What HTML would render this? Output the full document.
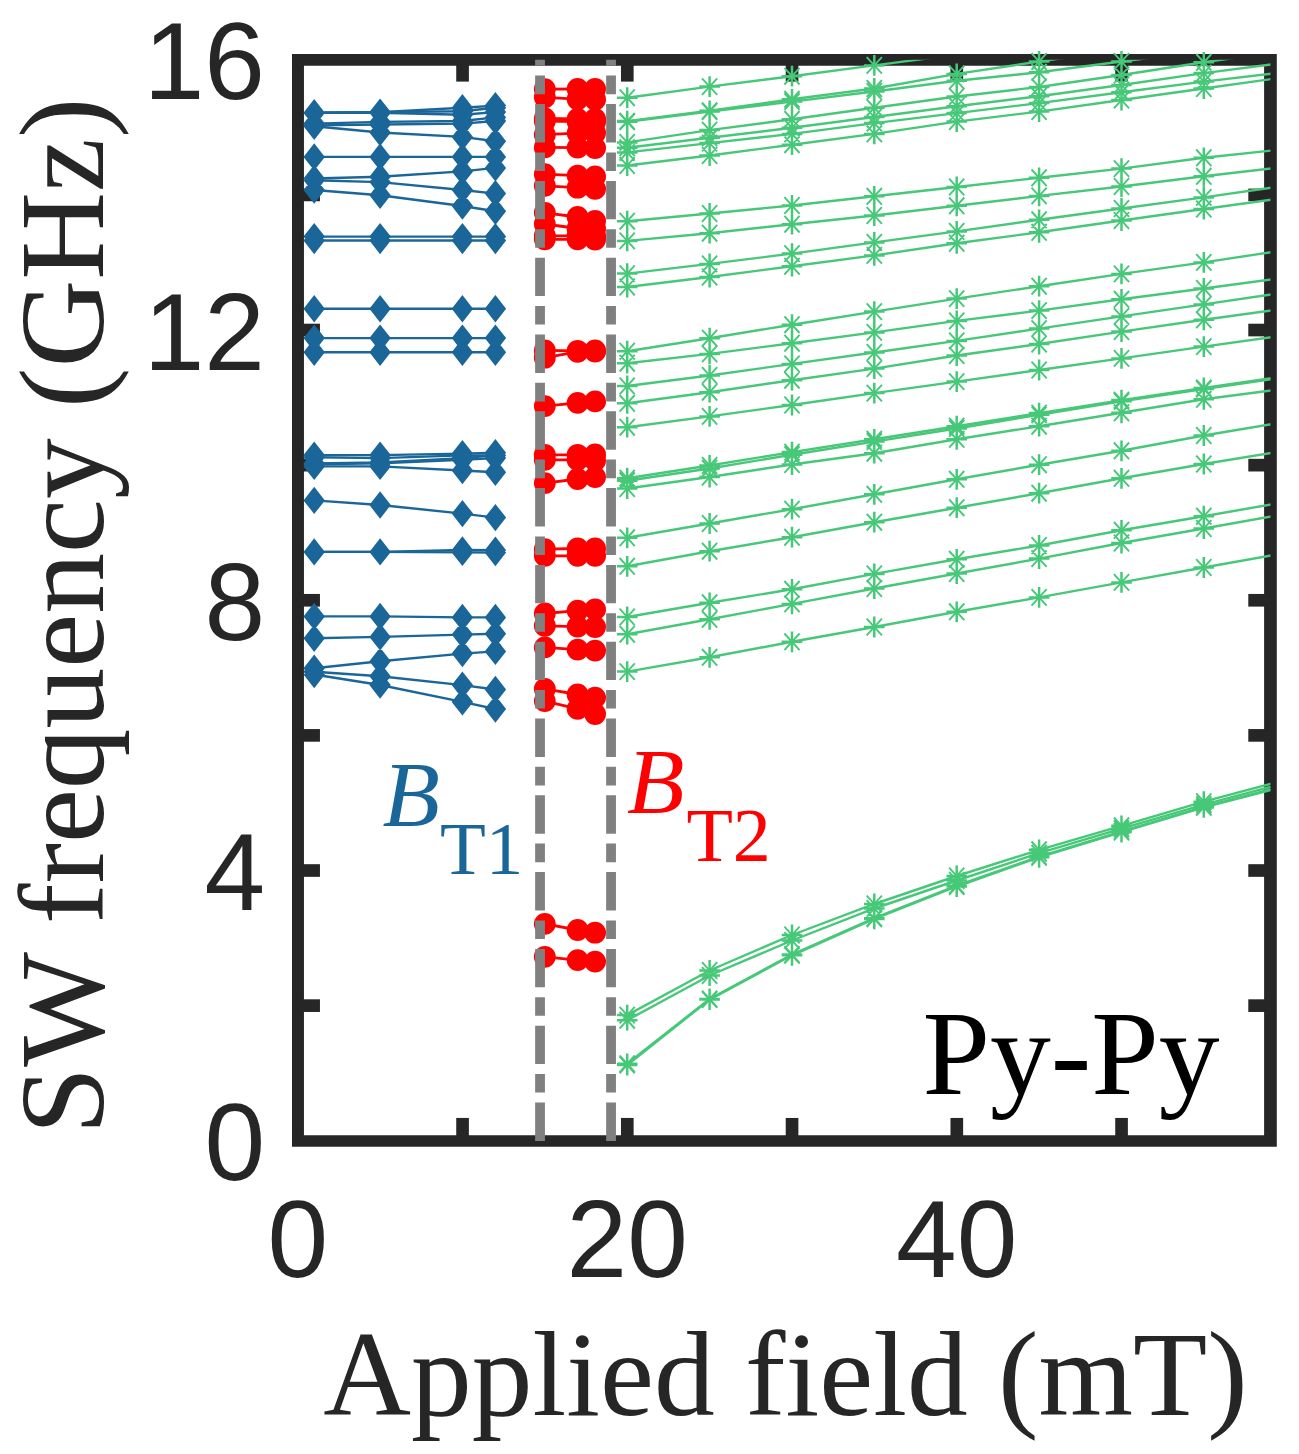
<!DOCTYPE html>
<html lang="en"><head><meta charset="utf-8"><title>SW frequency vs applied field (Py-Py)</title>
<style>html,body{margin:0;padding:0;background:#fff}svg{display:block}.sans{font-family:"Liberation Sans",Arial,Helvetica,sans-serif}.serif{font-family:"Liberation Serif","Times New Roman",Times,serif}</style></head><body>
<svg width="1299" height="1454" viewBox="0 0 1299 1454">
<rect x="0" y="0" width="1299" height="1454" fill="#fff"/>
<defs>
<clipPath id="cp"><rect x="297.95" y="59.87" width="972.5" height="1081.0300000000002"/></clipPath>
</defs>
<path fill="#262626" fill-rule="evenodd" d="M292.0,54.0H1276.8V1146.75H292.0Z M303.95,65.73H1264.1V1135.15H303.95Z"/>
<g fill="#262626"><rect x="456.23" y="1117.95" width="12.65" height="18.20"/><rect x="456.23" y="64.73" width="12.65" height="16.87"/><rect x="620.97" y="1117.95" width="12.65" height="18.20"/><rect x="620.97" y="64.73" width="12.65" height="16.87"/><rect x="785.73" y="1117.95" width="12.65" height="18.20"/><rect x="785.73" y="64.73" width="12.65" height="16.87"/><rect x="950.47" y="1117.95" width="12.65" height="18.20"/><rect x="950.47" y="64.73" width="12.65" height="16.87"/><rect x="1115.23" y="1117.95" width="12.65" height="18.20"/><rect x="1115.23" y="64.73" width="12.65" height="16.87"/><rect x="302.95" y="999.31" width="17.00" height="12.65"/><rect x="1248.3" y="999.31" width="16.80" height="12.65"/><rect x="302.95" y="864.19" width="17.00" height="12.65"/><rect x="1248.3" y="864.19" width="16.80" height="12.65"/><rect x="302.95" y="729.07" width="17.00" height="12.65"/><rect x="1248.3" y="729.07" width="16.80" height="12.65"/><rect x="302.95" y="593.95" width="17.00" height="12.65"/><rect x="1248.3" y="593.95" width="16.80" height="12.65"/><rect x="302.95" y="458.83" width="17.00" height="12.65"/><rect x="1248.3" y="458.83" width="16.80" height="12.65"/><rect x="302.95" y="323.71" width="17.00" height="12.65"/><rect x="1248.3" y="323.71" width="16.80" height="12.65"/><rect x="302.95" y="188.59" width="17.00" height="12.65"/><rect x="1248.3" y="188.59" width="16.80" height="12.65"/></g>
<g clip-path="url(#cp)" stroke="#1b6699" stroke-width="2.4" fill="none">
<polyline points="314.2,112.7 380.1,112.1 462.4,107.7 495.4,105.6"/>
<polyline points="314.2,112.7 380.1,112.1 462.4,111.2 495.4,107.7"/>
<polyline points="314.2,112.9 380.1,112.7 462.4,114.8 495.4,112.1"/>
<polyline points="314.2,123.6 380.1,121.9 462.4,121.0 495.4,117.4"/>
<polyline points="314.2,125.4 380.1,124.5 462.4,123.6 495.4,121.0"/>
<polyline points="314.2,126.3 380.1,132.5 462.4,136.9 495.4,141.3"/>
<polyline points="314.2,156.9 380.1,156.9 462.4,156.9 495.4,156.9"/>
<polyline points="314.2,178.5 380.1,176.8 462.4,171.4 495.4,167.9"/>
<polyline points="314.2,180.3 380.1,182.1 462.4,190.0 495.4,193.6"/>
<polyline points="314.2,190.0 380.1,195.3 462.4,206.0 495.4,211.3"/>
<polyline points="314.2,236.6 380.1,236.6 462.4,236.6 495.4,236.6"/>
<polyline points="314.2,240.5 380.1,240.5 462.4,240.5 495.4,240.5"/>
<polyline points="314.2,308.7 380.1,308.7 462.4,308.7 495.4,308.7"/>
<polyline points="314.2,338.1 380.1,338.1 462.4,338.1 495.4,338.1"/>
<polyline points="314.2,352.2 380.1,352.2 462.4,352.2 495.4,352.2"/>
<polyline points="314.2,455.1 380.1,455.1 462.4,453.6 495.4,452.8"/>
<polyline points="314.2,457.2 380.1,458.1 462.4,455.4 495.4,455.4"/>
<polyline points="314.2,463.4 380.1,462.5 462.4,458.1 495.4,455.4"/>
<polyline points="314.2,464.3 380.1,463.4 462.4,459.8 495.4,458.1"/>
<polyline points="314.2,466.4 380.1,466.4 462.4,470.5 495.4,472.2"/>
<polyline points="314.2,500.4 380.1,505.0 462.4,513.6 495.4,517.6"/>
<polyline points="314.2,551.9 380.1,551.9 462.4,550.0 495.4,550.2"/>
<polyline points="314.2,551.9 380.1,551.9 462.4,552.4 495.4,552.6"/>
<polyline points="314.2,616.4 380.1,616.4 462.4,617.4 495.4,617.4"/>
<polyline points="314.2,638.2 380.1,636.9 462.4,634.6 495.4,633.7"/>
<polyline points="314.2,668.3 380.1,661.2 462.4,653.6 495.4,651.4"/>
<polyline points="314.2,671.8 380.1,676.2 462.4,685.1 495.4,689.5"/>
<polyline points="314.2,674.5 380.1,685.0 462.4,701.9 495.4,709.0"/>
</g>
<path fill="#1b6699" d="M314.2,99.0l10.7,13.7l-10.7,13.7l-10.7,-13.7zM380.1,98.4l10.7,13.7l-10.7,13.7l-10.7,-13.7zM462.4,94.0l10.7,13.7l-10.7,13.7l-10.7,-13.7zM495.4,91.9l10.7,13.7l-10.7,13.7l-10.7,-13.7zM314.2,99.0l10.7,13.7l-10.7,13.7l-10.7,-13.7zM380.1,98.4l10.7,13.7l-10.7,13.7l-10.7,-13.7zM462.4,97.5l10.7,13.7l-10.7,13.7l-10.7,-13.7zM495.4,94.0l10.7,13.7l-10.7,13.7l-10.7,-13.7zM314.2,99.2l10.7,13.7l-10.7,13.7l-10.7,-13.7zM380.1,99.0l10.7,13.7l-10.7,13.7l-10.7,-13.7zM462.4,101.1l10.7,13.7l-10.7,13.7l-10.7,-13.7zM495.4,98.4l10.7,13.7l-10.7,13.7l-10.7,-13.7zM314.2,109.9l10.7,13.7l-10.7,13.7l-10.7,-13.7zM380.1,108.2l10.7,13.7l-10.7,13.7l-10.7,-13.7zM462.4,107.3l10.7,13.7l-10.7,13.7l-10.7,-13.7zM495.4,103.7l10.7,13.7l-10.7,13.7l-10.7,-13.7zM314.2,111.7l10.7,13.7l-10.7,13.7l-10.7,-13.7zM380.1,110.8l10.7,13.7l-10.7,13.7l-10.7,-13.7zM462.4,109.9l10.7,13.7l-10.7,13.7l-10.7,-13.7zM495.4,107.3l10.7,13.7l-10.7,13.7l-10.7,-13.7zM314.2,112.6l10.7,13.7l-10.7,13.7l-10.7,-13.7zM380.1,118.8l10.7,13.7l-10.7,13.7l-10.7,-13.7zM462.4,123.2l10.7,13.7l-10.7,13.7l-10.7,-13.7zM495.4,127.6l10.7,13.7l-10.7,13.7l-10.7,-13.7zM314.2,143.2l10.7,13.7l-10.7,13.7l-10.7,-13.7zM380.1,143.2l10.7,13.7l-10.7,13.7l-10.7,-13.7zM462.4,143.2l10.7,13.7l-10.7,13.7l-10.7,-13.7zM495.4,143.2l10.7,13.7l-10.7,13.7l-10.7,-13.7zM314.2,164.8l10.7,13.7l-10.7,13.7l-10.7,-13.7zM380.1,163.1l10.7,13.7l-10.7,13.7l-10.7,-13.7zM462.4,157.7l10.7,13.7l-10.7,13.7l-10.7,-13.7zM495.4,154.2l10.7,13.7l-10.7,13.7l-10.7,-13.7zM314.2,166.6l10.7,13.7l-10.7,13.7l-10.7,-13.7zM380.1,168.4l10.7,13.7l-10.7,13.7l-10.7,-13.7zM462.4,176.3l10.7,13.7l-10.7,13.7l-10.7,-13.7zM495.4,179.9l10.7,13.7l-10.7,13.7l-10.7,-13.7zM314.2,176.3l10.7,13.7l-10.7,13.7l-10.7,-13.7zM380.1,181.6l10.7,13.7l-10.7,13.7l-10.7,-13.7zM462.4,192.3l10.7,13.7l-10.7,13.7l-10.7,-13.7zM495.4,197.6l10.7,13.7l-10.7,13.7l-10.7,-13.7zM314.2,222.9l10.7,13.7l-10.7,13.7l-10.7,-13.7zM380.1,222.9l10.7,13.7l-10.7,13.7l-10.7,-13.7zM462.4,222.9l10.7,13.7l-10.7,13.7l-10.7,-13.7zM495.4,222.9l10.7,13.7l-10.7,13.7l-10.7,-13.7zM314.2,226.8l10.7,13.7l-10.7,13.7l-10.7,-13.7zM380.1,226.8l10.7,13.7l-10.7,13.7l-10.7,-13.7zM462.4,226.8l10.7,13.7l-10.7,13.7l-10.7,-13.7zM495.4,226.8l10.7,13.7l-10.7,13.7l-10.7,-13.7zM314.2,295.0l10.7,13.7l-10.7,13.7l-10.7,-13.7zM380.1,295.0l10.7,13.7l-10.7,13.7l-10.7,-13.7zM462.4,295.0l10.7,13.7l-10.7,13.7l-10.7,-13.7zM495.4,295.0l10.7,13.7l-10.7,13.7l-10.7,-13.7zM314.2,324.4l10.7,13.7l-10.7,13.7l-10.7,-13.7zM380.1,324.4l10.7,13.7l-10.7,13.7l-10.7,-13.7zM462.4,324.4l10.7,13.7l-10.7,13.7l-10.7,-13.7zM495.4,324.4l10.7,13.7l-10.7,13.7l-10.7,-13.7zM314.2,338.5l10.7,13.7l-10.7,13.7l-10.7,-13.7zM380.1,338.5l10.7,13.7l-10.7,13.7l-10.7,-13.7zM462.4,338.5l10.7,13.7l-10.7,13.7l-10.7,-13.7zM495.4,338.5l10.7,13.7l-10.7,13.7l-10.7,-13.7zM314.2,441.4l10.7,13.7l-10.7,13.7l-10.7,-13.7zM380.1,441.4l10.7,13.7l-10.7,13.7l-10.7,-13.7zM462.4,439.9l10.7,13.7l-10.7,13.7l-10.7,-13.7zM495.4,439.1l10.7,13.7l-10.7,13.7l-10.7,-13.7zM314.2,443.5l10.7,13.7l-10.7,13.7l-10.7,-13.7zM380.1,444.4l10.7,13.7l-10.7,13.7l-10.7,-13.7zM462.4,441.7l10.7,13.7l-10.7,13.7l-10.7,-13.7zM495.4,441.7l10.7,13.7l-10.7,13.7l-10.7,-13.7zM314.2,449.7l10.7,13.7l-10.7,13.7l-10.7,-13.7zM380.1,448.8l10.7,13.7l-10.7,13.7l-10.7,-13.7zM462.4,444.4l10.7,13.7l-10.7,13.7l-10.7,-13.7zM495.4,441.7l10.7,13.7l-10.7,13.7l-10.7,-13.7zM314.2,450.6l10.7,13.7l-10.7,13.7l-10.7,-13.7zM380.1,449.7l10.7,13.7l-10.7,13.7l-10.7,-13.7zM462.4,446.1l10.7,13.7l-10.7,13.7l-10.7,-13.7zM495.4,444.4l10.7,13.7l-10.7,13.7l-10.7,-13.7zM314.2,452.7l10.7,13.7l-10.7,13.7l-10.7,-13.7zM380.1,452.7l10.7,13.7l-10.7,13.7l-10.7,-13.7zM462.4,456.8l10.7,13.7l-10.7,13.7l-10.7,-13.7zM495.4,458.5l10.7,13.7l-10.7,13.7l-10.7,-13.7zM314.2,486.7l10.7,13.7l-10.7,13.7l-10.7,-13.7zM380.1,491.3l10.7,13.7l-10.7,13.7l-10.7,-13.7zM462.4,499.9l10.7,13.7l-10.7,13.7l-10.7,-13.7zM495.4,503.9l10.7,13.7l-10.7,13.7l-10.7,-13.7zM314.2,538.2l10.7,13.7l-10.7,13.7l-10.7,-13.7zM380.1,538.2l10.7,13.7l-10.7,13.7l-10.7,-13.7zM462.4,536.3l10.7,13.7l-10.7,13.7l-10.7,-13.7zM495.4,536.5l10.7,13.7l-10.7,13.7l-10.7,-13.7zM314.2,538.2l10.7,13.7l-10.7,13.7l-10.7,-13.7zM380.1,538.2l10.7,13.7l-10.7,13.7l-10.7,-13.7zM462.4,538.7l10.7,13.7l-10.7,13.7l-10.7,-13.7zM495.4,538.9l10.7,13.7l-10.7,13.7l-10.7,-13.7zM314.2,602.7l10.7,13.7l-10.7,13.7l-10.7,-13.7zM380.1,602.7l10.7,13.7l-10.7,13.7l-10.7,-13.7zM462.4,603.7l10.7,13.7l-10.7,13.7l-10.7,-13.7zM495.4,603.7l10.7,13.7l-10.7,13.7l-10.7,-13.7zM314.2,624.5l10.7,13.7l-10.7,13.7l-10.7,-13.7zM380.1,623.2l10.7,13.7l-10.7,13.7l-10.7,-13.7zM462.4,620.9l10.7,13.7l-10.7,13.7l-10.7,-13.7zM495.4,620.0l10.7,13.7l-10.7,13.7l-10.7,-13.7zM314.2,654.6l10.7,13.7l-10.7,13.7l-10.7,-13.7zM380.1,647.5l10.7,13.7l-10.7,13.7l-10.7,-13.7zM462.4,639.9l10.7,13.7l-10.7,13.7l-10.7,-13.7zM495.4,637.7l10.7,13.7l-10.7,13.7l-10.7,-13.7zM314.2,658.1l10.7,13.7l-10.7,13.7l-10.7,-13.7zM380.1,662.5l10.7,13.7l-10.7,13.7l-10.7,-13.7zM462.4,671.4l10.7,13.7l-10.7,13.7l-10.7,-13.7zM495.4,675.8l10.7,13.7l-10.7,13.7l-10.7,-13.7zM314.2,660.8l10.7,13.7l-10.7,13.7l-10.7,-13.7zM380.1,671.3l10.7,13.7l-10.7,13.7l-10.7,-13.7zM462.4,688.2l10.7,13.7l-10.7,13.7l-10.7,-13.7zM495.4,695.3l10.7,13.7l-10.7,13.7l-10.7,-13.7z"/>
<g clip-path="url(#cp)" stroke="#ff0000" stroke-width="2.8" fill="none">
<polyline points="544.8,89.2 577.6,89.0 595.1,89.0"/>
<polyline points="544.8,97.3 577.6,99.2 595.1,99.5"/>
<polyline points="544.8,118.5 577.6,118.9 595.1,119.0"/>
<polyline points="544.8,121.2 577.6,121.5 595.1,122.0"/>
<polyline points="544.8,134.7 577.6,133.1 595.1,133.0"/>
<polyline points="544.8,147.4 577.6,147.6 595.1,148.0"/>
<polyline points="544.8,174.2 577.6,175.6 595.1,176.4"/>
<polyline points="544.8,185.8 577.6,187.7 595.1,188.9"/>
<polyline points="544.8,212.8 577.6,217.0 595.1,221.0"/>
<polyline points="544.8,224.0 577.6,228.5 595.1,229.0"/>
<polyline points="544.8,235.8 577.6,235.8 595.1,236.0"/>
<polyline points="544.8,239.3 577.6,239.3 595.1,239.5"/>
<polyline points="544.8,350.4 577.6,350.8 595.1,350.5"/>
<polyline points="544.8,357.7 577.6,351.9 595.1,351.6"/>
<polyline points="544.8,406.1 577.6,402.9 595.1,401.4"/>
<polyline points="544.8,454.8 577.6,454.8 595.1,454.5"/>
<polyline points="544.8,459.9 577.6,459.9 595.1,460.5"/>
<polyline points="544.8,483.1 577.6,479.0 595.1,477.1"/>
<polyline points="544.8,549.2 577.6,548.5 595.1,548.5"/>
<polyline points="544.8,555.8 577.6,555.8 595.1,555.8"/>
<polyline points="544.8,613.5 577.6,610.6 595.1,609.4"/>
<polyline points="544.8,625.8 577.6,626.6 595.1,627.0"/>
<polyline points="544.8,647.4 577.6,649.6 595.1,650.6"/>
<polyline points="544.8,688.9 577.6,694.5 595.1,697.6"/>
<polyline points="544.8,701.1 577.6,708.9 595.1,714.0"/>
<polyline points="544.8,923.9 577.6,930.0 595.1,932.7"/>
<polyline points="544.8,956.8 577.6,960.1 595.1,961.6"/>
</g>
<g fill="#ff0000">
<circle cx="544.8" cy="89.2" r="10.9"/><circle cx="577.6" cy="89.0" r="10.9"/><circle cx="595.1" cy="89.0" r="10.9"/>
<circle cx="544.8" cy="97.3" r="10.9"/><circle cx="577.6" cy="99.2" r="10.9"/><circle cx="595.1" cy="99.5" r="10.9"/>
<circle cx="544.8" cy="118.5" r="10.9"/><circle cx="577.6" cy="118.9" r="10.9"/><circle cx="595.1" cy="119.0" r="10.9"/>
<circle cx="544.8" cy="121.2" r="10.9"/><circle cx="577.6" cy="121.5" r="10.9"/><circle cx="595.1" cy="122.0" r="10.9"/>
<circle cx="544.8" cy="134.7" r="10.9"/><circle cx="577.6" cy="133.1" r="10.9"/><circle cx="595.1" cy="133.0" r="10.9"/>
<circle cx="544.8" cy="147.4" r="10.9"/><circle cx="577.6" cy="147.6" r="10.9"/><circle cx="595.1" cy="148.0" r="10.9"/>
<circle cx="544.8" cy="174.2" r="10.9"/><circle cx="577.6" cy="175.6" r="10.9"/><circle cx="595.1" cy="176.4" r="10.9"/>
<circle cx="544.8" cy="185.8" r="10.9"/><circle cx="577.6" cy="187.7" r="10.9"/><circle cx="595.1" cy="188.9" r="10.9"/>
<circle cx="544.8" cy="212.8" r="10.9"/><circle cx="577.6" cy="217.0" r="10.9"/><circle cx="595.1" cy="221.0" r="10.9"/>
<circle cx="544.8" cy="224.0" r="10.9"/><circle cx="577.6" cy="228.5" r="10.9"/><circle cx="595.1" cy="229.0" r="10.9"/>
<circle cx="544.8" cy="235.8" r="10.9"/><circle cx="577.6" cy="235.8" r="10.9"/><circle cx="595.1" cy="236.0" r="10.9"/>
<circle cx="544.8" cy="239.3" r="10.9"/><circle cx="577.6" cy="239.3" r="10.9"/><circle cx="595.1" cy="239.5" r="10.9"/>
<circle cx="544.8" cy="350.4" r="10.9"/><circle cx="577.6" cy="350.8" r="10.9"/><circle cx="595.1" cy="350.5" r="10.9"/>
<circle cx="544.8" cy="357.7" r="10.9"/><circle cx="577.6" cy="351.9" r="10.9"/><circle cx="595.1" cy="351.6" r="10.9"/>
<circle cx="544.8" cy="406.1" r="10.9"/><circle cx="577.6" cy="402.9" r="10.9"/><circle cx="595.1" cy="401.4" r="10.9"/>
<circle cx="544.8" cy="454.8" r="10.9"/><circle cx="577.6" cy="454.8" r="10.9"/><circle cx="595.1" cy="454.5" r="10.9"/>
<circle cx="544.8" cy="459.9" r="10.9"/><circle cx="577.6" cy="459.9" r="10.9"/><circle cx="595.1" cy="460.5" r="10.9"/>
<circle cx="544.8" cy="483.1" r="10.9"/><circle cx="577.6" cy="479.0" r="10.9"/><circle cx="595.1" cy="477.1" r="10.9"/>
<circle cx="544.8" cy="549.2" r="10.9"/><circle cx="577.6" cy="548.5" r="10.9"/><circle cx="595.1" cy="548.5" r="10.9"/>
<circle cx="544.8" cy="555.8" r="10.9"/><circle cx="577.6" cy="555.8" r="10.9"/><circle cx="595.1" cy="555.8" r="10.9"/>
<circle cx="544.8" cy="613.5" r="10.9"/><circle cx="577.6" cy="610.6" r="10.9"/><circle cx="595.1" cy="609.4" r="10.9"/>
<circle cx="544.8" cy="625.8" r="10.9"/><circle cx="577.6" cy="626.6" r="10.9"/><circle cx="595.1" cy="627.0" r="10.9"/>
<circle cx="544.8" cy="647.4" r="10.9"/><circle cx="577.6" cy="649.6" r="10.9"/><circle cx="595.1" cy="650.6" r="10.9"/>
<circle cx="544.8" cy="688.9" r="10.9"/><circle cx="577.6" cy="694.5" r="10.9"/><circle cx="595.1" cy="697.6" r="10.9"/>
<circle cx="544.8" cy="701.1" r="10.9"/><circle cx="577.6" cy="708.9" r="10.9"/><circle cx="595.1" cy="714.0" r="10.9"/>
<circle cx="544.8" cy="923.9" r="10.9"/><circle cx="577.6" cy="930.0" r="10.9"/><circle cx="595.1" cy="932.7" r="10.9"/>
<circle cx="544.8" cy="956.8" r="10.9"/><circle cx="577.6" cy="960.1" r="10.9"/><circle cx="595.1" cy="961.6" r="10.9"/>
</g>
<g clip-path="url(#cp)" stroke="#47c879" stroke-width="2.4" fill="none">
<polyline points="627.2,97.7 709.6,86.6 792.0,76.2 874.3,65.4 956.7,54.6 1039.1,44.0 1121.5,33.0 1203.8,22.0 1286.2,11.0"/>
<polyline points="627.2,121.1 709.6,110.8 792.0,99.3 874.3,88.5 956.7,73.9 1039.1,61.5 1121.5,49.5 1203.8,38.0 1286.2,26.0"/>
<polyline points="627.2,121.8 709.6,111.5 792.0,101.6 874.3,91.5 956.7,80.8 1039.1,72.3 1121.5,61.5 1203.8,51.0 1286.2,40.0"/>
<polyline points="627.2,142.4 709.6,130.1 792.0,119.3 874.3,107.7 956.7,96.5 1039.1,87.0 1121.5,75.0 1203.8,62.3 1286.2,50.5"/>
<polyline points="627.2,147.8 709.6,137.8 792.0,127.8 874.3,117.0 956.7,106.2 1039.1,96.2 1121.5,85.0 1203.8,73.1 1286.2,62.5"/>
<polyline points="627.2,152.4 709.6,143.1 792.0,133.9 874.3,123.1 956.7,113.1 1039.1,103.1 1121.5,92.3 1203.8,81.6 1286.2,72.0"/>
<polyline points="627.2,165.5 709.6,155.5 792.0,144.7 874.3,133.9 956.7,121.6 1039.1,111.6 1121.5,100.0 1203.8,88.5 1286.2,77.0"/>
<polyline points="627.2,221.2 709.6,213.5 792.0,205.5 874.3,196.3 956.7,187.0 1039.1,177.8 1121.5,168.6 1203.8,157.8 1286.2,149.0"/>
<polyline points="627.2,240.9 709.6,233.2 792.0,224.2 874.3,215.5 956.7,205.8 1039.1,195.9 1121.5,186.5 1203.8,176.3 1286.2,166.7"/>
<polyline points="627.2,273.6 709.6,263.9 792.0,253.6 874.3,242.4 956.7,231.4 1039.1,219.8 1121.5,208.5 1203.8,197.4 1286.2,185.6"/>
<polyline points="627.2,287.0 709.6,277.0 792.0,266.2 874.3,255.4 956.7,243.3 1039.1,232.3 1121.5,220.5 1203.8,209.0 1286.2,197.7"/>
<polyline points="627.2,351.2 709.6,338.2 792.0,324.7 874.3,311.6 956.7,298.6 1039.1,286.2 1121.5,273.9 1203.8,262.4 1286.2,249.9"/>
<polyline points="627.2,363.2 709.6,353.9 792.0,343.2 874.3,332.4 956.7,320.9 1039.1,310.6 1121.5,299.3 1203.8,288.5 1286.2,277.4"/>
<polyline points="627.2,386.0 709.6,375.5 792.0,363.9 874.3,352.5 956.7,340.9 1039.1,328.6 1121.5,316.4 1203.8,304.4 1286.2,292.3"/>
<polyline points="627.2,403.3 709.6,392.2 792.0,380.2 874.3,368.6 956.7,355.5 1039.1,344.0 1121.5,331.6 1203.8,319.8 1286.2,308.3"/>
<polyline points="627.2,427.2 709.6,416.4 792.0,405.0 874.3,393.1 956.7,381.6 1039.1,370.0 1121.5,358.4 1203.8,346.6 1286.2,335.2"/>
<polyline points="627.2,478.2 709.6,465.5 792.0,452.1 874.3,439.3 956.7,426.2 1039.1,413.1 1121.5,400.1 1203.8,388.0 1286.2,376.0"/>
<polyline points="627.2,480.8 709.6,468.5 792.0,454.7 874.3,441.6 956.7,428.5 1039.1,414.7 1121.5,401.3 1203.8,389.0 1286.2,377.0"/>
<polyline points="627.2,488.5 709.6,477.0 792.0,464.5 874.3,453.2 956.7,439.3 1039.1,426.2 1121.5,412.8 1203.8,399.3 1286.2,388.5"/>
<polyline points="627.2,537.8 709.6,523.5 792.0,509.2 874.3,494.3 956.7,479.3 1039.1,464.7 1121.5,450.8 1203.8,435.5 1286.2,421.6"/>
<polyline points="627.2,566.3 709.6,551.2 792.0,537.2 874.3,522.2 956.7,507.7 1039.1,493.2 1121.5,478.3 1203.8,464.0 1286.2,450.5"/>
<polyline points="627.2,617.0 709.6,602.8 792.0,589.3 874.3,573.9 956.7,559.3 1039.1,545.5 1121.5,530.3 1203.8,516.2 1286.2,501.8"/>
<polyline points="627.2,634.2 709.6,619.3 792.0,603.9 874.3,588.5 956.7,573.5 1039.1,558.6 1121.5,543.0 1203.8,528.5 1286.2,513.7"/>
<polyline points="627.2,671.6 709.6,657.3 792.0,641.8 874.3,627.0 956.7,611.8 1039.1,597.4 1121.5,582.4 1203.8,567.5 1286.2,552.9"/>
<polyline points="627.2,1015.1 709.6,970.5 792.0,935.0 874.3,904.0 956.7,876.0 1039.1,849.8 1121.5,825.8 1203.8,801.7 1286.2,779.8"/>
<polyline points="627.2,1020.2 709.6,975.5 792.0,940.5 874.3,908.5 956.7,880.5 1039.1,853.2 1121.5,828.7 1203.8,804.6 1286.2,782.6"/>
<polyline points="627.2,1063.8 709.6,998.9 792.0,954.5 874.3,918.2 956.7,885.7 1039.1,856.6 1121.5,831.3 1203.8,806.8 1286.2,785.4"/>
<polyline points="627.2,1065.0 709.6,999.6 792.0,955.3 874.3,918.9 956.7,886.5 1039.1,857.3 1121.5,832.0 1203.8,807.4 1286.2,786.0"/>
</g>
<g stroke="#47c879" fill="none"><path stroke-width="2.5" d="M616.9,97.7h20.6M627.2,87.3v20.8M699.3,86.6h20.6M709.6,76.2v20.8M781.7,76.2h20.6M792.0,65.8v20.8M864.0,65.4h20.6M874.3,55.0v20.8M616.9,121.1h20.6M627.2,110.7v20.8M699.3,110.8h20.6M709.6,100.4v20.8M781.7,99.3h20.6M792.0,88.9v20.8M864.0,88.5h20.6M874.3,78.1v20.8M946.4,73.9h20.6M956.7,63.5v20.8M1028.8,61.5h20.6M1039.1,51.1v20.8M616.9,121.8h20.6M627.2,111.4v20.8M699.3,111.5h20.6M709.6,101.1v20.8M781.7,101.6h20.6M792.0,91.2v20.8M864.0,91.5h20.6M874.3,81.1v20.8M946.4,80.8h20.6M956.7,70.4v20.8M1028.8,72.3h20.6M1039.1,61.9v20.8M1111.2,61.5h20.6M1121.5,51.1v20.8M616.9,142.4h20.6M627.2,132.0v20.8M699.3,130.1h20.6M709.6,119.7v20.8M781.7,119.3h20.6M792.0,108.9v20.8M864.0,107.7h20.6M874.3,97.3v20.8M946.4,96.5h20.6M956.7,86.1v20.8M1028.8,87.0h20.6M1039.1,76.6v20.8M1111.2,75.0h20.6M1121.5,64.6v20.8M1193.5,62.3h20.6M1203.8,51.9v20.8M616.9,147.8h20.6M627.2,137.4v20.8M699.3,137.8h20.6M709.6,127.4v20.8M781.7,127.8h20.6M792.0,117.4v20.8M864.0,117.0h20.6M874.3,106.6v20.8M946.4,106.2h20.6M956.7,95.8v20.8M1028.8,96.2h20.6M1039.1,85.8v20.8M1111.2,85.0h20.6M1121.5,74.6v20.8M1193.5,73.1h20.6M1203.8,62.7v20.8M616.9,152.4h20.6M627.2,142.0v20.8M699.3,143.1h20.6M709.6,132.7v20.8M781.7,133.9h20.6M792.0,123.5v20.8M864.0,123.1h20.6M874.3,112.7v20.8M946.4,113.1h20.6M956.7,102.7v20.8M1028.8,103.1h20.6M1039.1,92.7v20.8M1111.2,92.3h20.6M1121.5,81.9v20.8M1193.5,81.6h20.6M1203.8,71.2v20.8M616.9,165.5h20.6M627.2,155.1v20.8M699.3,155.5h20.6M709.6,145.1v20.8M781.7,144.7h20.6M792.0,134.3v20.8M864.0,133.9h20.6M874.3,123.5v20.8M946.4,121.6h20.6M956.7,111.2v20.8M1028.8,111.6h20.6M1039.1,101.2v20.8M1111.2,100.0h20.6M1121.5,89.6v20.8M1193.5,88.5h20.6M1203.8,78.1v20.8M616.9,221.2h20.6M627.2,210.8v20.8M699.3,213.5h20.6M709.6,203.1v20.8M781.7,205.5h20.6M792.0,195.1v20.8M864.0,196.3h20.6M874.3,185.9v20.8M946.4,187.0h20.6M956.7,176.6v20.8M1028.8,177.8h20.6M1039.1,167.4v20.8M1111.2,168.6h20.6M1121.5,158.2v20.8M1193.5,157.8h20.6M1203.8,147.4v20.8M616.9,240.9h20.6M627.2,230.5v20.8M699.3,233.2h20.6M709.6,222.8v20.8M781.7,224.2h20.6M792.0,213.8v20.8M864.0,215.5h20.6M874.3,205.1v20.8M946.4,205.8h20.6M956.7,195.4v20.8M1028.8,195.9h20.6M1039.1,185.5v20.8M1111.2,186.5h20.6M1121.5,176.1v20.8M1193.5,176.3h20.6M1203.8,165.9v20.8M616.9,273.6h20.6M627.2,263.2v20.8M699.3,263.9h20.6M709.6,253.5v20.8M781.7,253.6h20.6M792.0,243.2v20.8M864.0,242.4h20.6M874.3,232.0v20.8M946.4,231.4h20.6M956.7,221.0v20.8M1028.8,219.8h20.6M1039.1,209.4v20.8M1111.2,208.5h20.6M1121.5,198.1v20.8M1193.5,197.4h20.6M1203.8,187.0v20.8M616.9,287.0h20.6M627.2,276.6v20.8M699.3,277.0h20.6M709.6,266.6v20.8M781.7,266.2h20.6M792.0,255.8v20.8M864.0,255.4h20.6M874.3,245.0v20.8M946.4,243.3h20.6M956.7,232.9v20.8M1028.8,232.3h20.6M1039.1,221.9v20.8M1111.2,220.5h20.6M1121.5,210.1v20.8M1193.5,209.0h20.6M1203.8,198.6v20.8M616.9,351.2h20.6M627.2,340.8v20.8M699.3,338.2h20.6M709.6,327.8v20.8M781.7,324.7h20.6M792.0,314.3v20.8M864.0,311.6h20.6M874.3,301.2v20.8M946.4,298.6h20.6M956.7,288.2v20.8M1028.8,286.2h20.6M1039.1,275.8v20.8M1111.2,273.9h20.6M1121.5,263.5v20.8M1193.5,262.4h20.6M1203.8,252.0v20.8M616.9,363.2h20.6M627.2,352.8v20.8M699.3,353.9h20.6M709.6,343.5v20.8M781.7,343.2h20.6M792.0,332.8v20.8M864.0,332.4h20.6M874.3,322.0v20.8M946.4,320.9h20.6M956.7,310.5v20.8M1028.8,310.6h20.6M1039.1,300.2v20.8M1111.2,299.3h20.6M1121.5,288.9v20.8M1193.5,288.5h20.6M1203.8,278.1v20.8M616.9,386.0h20.6M627.2,375.6v20.8M699.3,375.5h20.6M709.6,365.1v20.8M781.7,363.9h20.6M792.0,353.5v20.8M864.0,352.5h20.6M874.3,342.1v20.8M946.4,340.9h20.6M956.7,330.5v20.8M1028.8,328.6h20.6M1039.1,318.2v20.8M1111.2,316.4h20.6M1121.5,306.0v20.8M1193.5,304.4h20.6M1203.8,294.0v20.8M616.9,403.3h20.6M627.2,392.9v20.8M699.3,392.2h20.6M709.6,381.8v20.8M781.7,380.2h20.6M792.0,369.8v20.8M864.0,368.6h20.6M874.3,358.2v20.8M946.4,355.5h20.6M956.7,345.1v20.8M1028.8,344.0h20.6M1039.1,333.6v20.8M1111.2,331.6h20.6M1121.5,321.2v20.8M1193.5,319.8h20.6M1203.8,309.4v20.8M616.9,427.2h20.6M627.2,416.8v20.8M699.3,416.4h20.6M709.6,406.0v20.8M781.7,405.0h20.6M792.0,394.6v20.8M864.0,393.1h20.6M874.3,382.7v20.8M946.4,381.6h20.6M956.7,371.2v20.8M1028.8,370.0h20.6M1039.1,359.6v20.8M1111.2,358.4h20.6M1121.5,348.0v20.8M1193.5,346.6h20.6M1203.8,336.2v20.8M616.9,478.2h20.6M627.2,467.8v20.8M699.3,465.5h20.6M709.6,455.1v20.8M781.7,452.1h20.6M792.0,441.7v20.8M864.0,439.3h20.6M874.3,428.9v20.8M946.4,426.2h20.6M956.7,415.8v20.8M1028.8,413.1h20.6M1039.1,402.7v20.8M1111.2,400.1h20.6M1121.5,389.7v20.8M1193.5,388.0h20.6M1203.8,377.6v20.8M616.9,480.8h20.6M627.2,470.4v20.8M699.3,468.5h20.6M709.6,458.1v20.8M781.7,454.7h20.6M792.0,444.3v20.8M864.0,441.6h20.6M874.3,431.2v20.8M946.4,428.5h20.6M956.7,418.1v20.8M1028.8,414.7h20.6M1039.1,404.3v20.8M1111.2,401.3h20.6M1121.5,390.9v20.8M1193.5,389.0h20.6M1203.8,378.6v20.8M616.9,488.5h20.6M627.2,478.1v20.8M699.3,477.0h20.6M709.6,466.6v20.8M781.7,464.5h20.6M792.0,454.1v20.8M864.0,453.2h20.6M874.3,442.8v20.8M946.4,439.3h20.6M956.7,428.9v20.8M1028.8,426.2h20.6M1039.1,415.8v20.8M1111.2,412.8h20.6M1121.5,402.4v20.8M1193.5,399.3h20.6M1203.8,388.9v20.8M616.9,537.8h20.6M627.2,527.4v20.8M699.3,523.5h20.6M709.6,513.1v20.8M781.7,509.2h20.6M792.0,498.8v20.8M864.0,494.3h20.6M874.3,483.9v20.8M946.4,479.3h20.6M956.7,468.9v20.8M1028.8,464.7h20.6M1039.1,454.3v20.8M1111.2,450.8h20.6M1121.5,440.4v20.8M1193.5,435.5h20.6M1203.8,425.1v20.8M616.9,566.3h20.6M627.2,555.9v20.8M699.3,551.2h20.6M709.6,540.8v20.8M781.7,537.2h20.6M792.0,526.8v20.8M864.0,522.2h20.6M874.3,511.8v20.8M946.4,507.7h20.6M956.7,497.3v20.8M1028.8,493.2h20.6M1039.1,482.8v20.8M1111.2,478.3h20.6M1121.5,467.9v20.8M1193.5,464.0h20.6M1203.8,453.6v20.8M616.9,617.0h20.6M627.2,606.6v20.8M699.3,602.8h20.6M709.6,592.4v20.8M781.7,589.3h20.6M792.0,578.9v20.8M864.0,573.9h20.6M874.3,563.5v20.8M946.4,559.3h20.6M956.7,548.9v20.8M1028.8,545.5h20.6M1039.1,535.1v20.8M1111.2,530.3h20.6M1121.5,519.9v20.8M1193.5,516.2h20.6M1203.8,505.8v20.8M616.9,634.2h20.6M627.2,623.8v20.8M699.3,619.3h20.6M709.6,608.9v20.8M781.7,603.9h20.6M792.0,593.5v20.8M864.0,588.5h20.6M874.3,578.1v20.8M946.4,573.5h20.6M956.7,563.1v20.8M1028.8,558.6h20.6M1039.1,548.2v20.8M1111.2,543.0h20.6M1121.5,532.6v20.8M1193.5,528.5h20.6M1203.8,518.1v20.8M616.9,671.6h20.6M627.2,661.2v20.8M699.3,657.3h20.6M709.6,646.9v20.8M781.7,641.8h20.6M792.0,631.4v20.8M864.0,627.0h20.6M874.3,616.6v20.8M946.4,611.8h20.6M956.7,601.4v20.8M1028.8,597.4h20.6M1039.1,587.0v20.8M1111.2,582.4h20.6M1121.5,572.0v20.8M1193.5,567.5h20.6M1203.8,557.1v20.8M616.9,1015.1h20.6M627.2,1004.7v20.8M699.3,970.5h20.6M709.6,960.1v20.8M781.7,935.0h20.6M792.0,924.6v20.8M864.0,904.0h20.6M874.3,893.6v20.8M946.4,876.0h20.6M956.7,865.6v20.8M1028.8,849.8h20.6M1039.1,839.4v20.8M1111.2,825.8h20.6M1121.5,815.4v20.8M1193.5,801.7h20.6M1203.8,791.3v20.8M616.9,1020.2h20.6M627.2,1009.8v20.8M699.3,975.5h20.6M709.6,965.1v20.8M781.7,940.5h20.6M792.0,930.1v20.8M864.0,908.5h20.6M874.3,898.1v20.8M946.4,880.5h20.6M956.7,870.1v20.8M1028.8,853.2h20.6M1039.1,842.8v20.8M1111.2,828.7h20.6M1121.5,818.3v20.8M1193.5,804.6h20.6M1203.8,794.2v20.8M616.9,1063.8h20.6M627.2,1053.4v20.8M699.3,998.9h20.6M709.6,988.5v20.8M781.7,954.5h20.6M792.0,944.1v20.8M864.0,918.2h20.6M874.3,907.8v20.8M946.4,885.7h20.6M956.7,875.3v20.8M1028.8,856.6h20.6M1039.1,846.2v20.8M1111.2,831.3h20.6M1121.5,820.9v20.8M1193.5,806.8h20.6M1203.8,796.4v20.8M616.9,1065.0h20.6M627.2,1054.6v20.8M699.3,999.6h20.6M709.6,989.2v20.8M781.7,955.3h20.6M792.0,944.9v20.8M864.0,918.9h20.6M874.3,908.5v20.8M946.4,886.5h20.6M956.7,876.1v20.8M1028.8,857.3h20.6M1039.1,846.9v20.8M1111.2,832.0h20.6M1121.5,821.6v20.8M1193.5,807.4h20.6M1203.8,797.0v20.8"/><path stroke-width="1.9" d="M619.6,89.4l15.2,16.6M619.6,106.0l15.2,-16.6M702.0,78.3l15.2,16.6M702.0,94.9l15.2,-16.6M784.4,67.9l15.2,16.6M784.4,84.5l15.2,-16.6M866.7,57.1l15.2,16.6M866.7,73.7l15.2,-16.6M619.6,112.8l15.2,16.6M619.6,129.4l15.2,-16.6M702.0,102.5l15.2,16.6M702.0,119.1l15.2,-16.6M784.4,91.0l15.2,16.6M784.4,107.6l15.2,-16.6M866.7,80.2l15.2,16.6M866.7,96.8l15.2,-16.6M949.1,65.6l15.2,16.6M949.1,82.2l15.2,-16.6M1031.5,53.2l15.2,16.6M1031.5,69.8l15.2,-16.6M619.6,113.5l15.2,16.6M619.6,130.1l15.2,-16.6M702.0,103.2l15.2,16.6M702.0,119.8l15.2,-16.6M784.4,93.3l15.2,16.6M784.4,109.9l15.2,-16.6M866.7,83.2l15.2,16.6M866.7,99.8l15.2,-16.6M949.1,72.5l15.2,16.6M949.1,89.1l15.2,-16.6M1031.5,64.0l15.2,16.6M1031.5,80.6l15.2,-16.6M1113.9,53.2l15.2,16.6M1113.9,69.8l15.2,-16.6M619.6,134.1l15.2,16.6M619.6,150.7l15.2,-16.6M702.0,121.8l15.2,16.6M702.0,138.4l15.2,-16.6M784.4,111.0l15.2,16.6M784.4,127.6l15.2,-16.6M866.7,99.4l15.2,16.6M866.7,116.0l15.2,-16.6M949.1,88.2l15.2,16.6M949.1,104.8l15.2,-16.6M1031.5,78.7l15.2,16.6M1031.5,95.3l15.2,-16.6M1113.9,66.7l15.2,16.6M1113.9,83.3l15.2,-16.6M1196.2,54.0l15.2,16.6M1196.2,70.6l15.2,-16.6M619.6,139.5l15.2,16.6M619.6,156.1l15.2,-16.6M702.0,129.5l15.2,16.6M702.0,146.1l15.2,-16.6M784.4,119.5l15.2,16.6M784.4,136.1l15.2,-16.6M866.7,108.7l15.2,16.6M866.7,125.3l15.2,-16.6M949.1,97.9l15.2,16.6M949.1,114.5l15.2,-16.6M1031.5,87.9l15.2,16.6M1031.5,104.5l15.2,-16.6M1113.9,76.7l15.2,16.6M1113.9,93.3l15.2,-16.6M1196.2,64.8l15.2,16.6M1196.2,81.4l15.2,-16.6M619.6,144.1l15.2,16.6M619.6,160.7l15.2,-16.6M702.0,134.8l15.2,16.6M702.0,151.4l15.2,-16.6M784.4,125.6l15.2,16.6M784.4,142.2l15.2,-16.6M866.7,114.8l15.2,16.6M866.7,131.4l15.2,-16.6M949.1,104.8l15.2,16.6M949.1,121.4l15.2,-16.6M1031.5,94.8l15.2,16.6M1031.5,111.4l15.2,-16.6M1113.9,84.0l15.2,16.6M1113.9,100.6l15.2,-16.6M1196.2,73.3l15.2,16.6M1196.2,89.9l15.2,-16.6M619.6,157.2l15.2,16.6M619.6,173.8l15.2,-16.6M702.0,147.2l15.2,16.6M702.0,163.8l15.2,-16.6M784.4,136.4l15.2,16.6M784.4,153.0l15.2,-16.6M866.7,125.6l15.2,16.6M866.7,142.2l15.2,-16.6M949.1,113.3l15.2,16.6M949.1,129.9l15.2,-16.6M1031.5,103.3l15.2,16.6M1031.5,119.9l15.2,-16.6M1113.9,91.7l15.2,16.6M1113.9,108.3l15.2,-16.6M1196.2,80.2l15.2,16.6M1196.2,96.8l15.2,-16.6M619.6,212.9l15.2,16.6M619.6,229.5l15.2,-16.6M702.0,205.2l15.2,16.6M702.0,221.8l15.2,-16.6M784.4,197.2l15.2,16.6M784.4,213.8l15.2,-16.6M866.7,188.0l15.2,16.6M866.7,204.6l15.2,-16.6M949.1,178.7l15.2,16.6M949.1,195.3l15.2,-16.6M1031.5,169.5l15.2,16.6M1031.5,186.1l15.2,-16.6M1113.9,160.3l15.2,16.6M1113.9,176.9l15.2,-16.6M1196.2,149.5l15.2,16.6M1196.2,166.1l15.2,-16.6M619.6,232.6l15.2,16.6M619.6,249.2l15.2,-16.6M702.0,224.9l15.2,16.6M702.0,241.5l15.2,-16.6M784.4,215.9l15.2,16.6M784.4,232.5l15.2,-16.6M866.7,207.2l15.2,16.6M866.7,223.8l15.2,-16.6M949.1,197.5l15.2,16.6M949.1,214.1l15.2,-16.6M1031.5,187.6l15.2,16.6M1031.5,204.2l15.2,-16.6M1113.9,178.2l15.2,16.6M1113.9,194.8l15.2,-16.6M1196.2,168.0l15.2,16.6M1196.2,184.6l15.2,-16.6M619.6,265.3l15.2,16.6M619.6,281.9l15.2,-16.6M702.0,255.6l15.2,16.6M702.0,272.2l15.2,-16.6M784.4,245.3l15.2,16.6M784.4,261.9l15.2,-16.6M866.7,234.1l15.2,16.6M866.7,250.7l15.2,-16.6M949.1,223.1l15.2,16.6M949.1,239.7l15.2,-16.6M1031.5,211.5l15.2,16.6M1031.5,228.1l15.2,-16.6M1113.9,200.2l15.2,16.6M1113.9,216.8l15.2,-16.6M1196.2,189.1l15.2,16.6M1196.2,205.7l15.2,-16.6M619.6,278.7l15.2,16.6M619.6,295.3l15.2,-16.6M702.0,268.7l15.2,16.6M702.0,285.3l15.2,-16.6M784.4,257.9l15.2,16.6M784.4,274.5l15.2,-16.6M866.7,247.1l15.2,16.6M866.7,263.7l15.2,-16.6M949.1,235.0l15.2,16.6M949.1,251.6l15.2,-16.6M1031.5,224.0l15.2,16.6M1031.5,240.6l15.2,-16.6M1113.9,212.2l15.2,16.6M1113.9,228.8l15.2,-16.6M1196.2,200.7l15.2,16.6M1196.2,217.3l15.2,-16.6M619.6,342.9l15.2,16.6M619.6,359.5l15.2,-16.6M702.0,329.9l15.2,16.6M702.0,346.5l15.2,-16.6M784.4,316.4l15.2,16.6M784.4,333.0l15.2,-16.6M866.7,303.3l15.2,16.6M866.7,319.9l15.2,-16.6M949.1,290.3l15.2,16.6M949.1,306.9l15.2,-16.6M1031.5,277.9l15.2,16.6M1031.5,294.5l15.2,-16.6M1113.9,265.6l15.2,16.6M1113.9,282.2l15.2,-16.6M1196.2,254.1l15.2,16.6M1196.2,270.7l15.2,-16.6M619.6,354.9l15.2,16.6M619.6,371.5l15.2,-16.6M702.0,345.6l15.2,16.6M702.0,362.2l15.2,-16.6M784.4,334.9l15.2,16.6M784.4,351.5l15.2,-16.6M866.7,324.1l15.2,16.6M866.7,340.7l15.2,-16.6M949.1,312.6l15.2,16.6M949.1,329.2l15.2,-16.6M1031.5,302.3l15.2,16.6M1031.5,318.9l15.2,-16.6M1113.9,291.0l15.2,16.6M1113.9,307.6l15.2,-16.6M1196.2,280.2l15.2,16.6M1196.2,296.8l15.2,-16.6M619.6,377.7l15.2,16.6M619.6,394.3l15.2,-16.6M702.0,367.2l15.2,16.6M702.0,383.8l15.2,-16.6M784.4,355.6l15.2,16.6M784.4,372.2l15.2,-16.6M866.7,344.2l15.2,16.6M866.7,360.8l15.2,-16.6M949.1,332.6l15.2,16.6M949.1,349.2l15.2,-16.6M1031.5,320.3l15.2,16.6M1031.5,336.9l15.2,-16.6M1113.9,308.1l15.2,16.6M1113.9,324.7l15.2,-16.6M1196.2,296.1l15.2,16.6M1196.2,312.7l15.2,-16.6M619.6,395.0l15.2,16.6M619.6,411.6l15.2,-16.6M702.0,383.9l15.2,16.6M702.0,400.5l15.2,-16.6M784.4,371.9l15.2,16.6M784.4,388.5l15.2,-16.6M866.7,360.3l15.2,16.6M866.7,376.9l15.2,-16.6M949.1,347.2l15.2,16.6M949.1,363.8l15.2,-16.6M1031.5,335.7l15.2,16.6M1031.5,352.3l15.2,-16.6M1113.9,323.3l15.2,16.6M1113.9,339.9l15.2,-16.6M1196.2,311.5l15.2,16.6M1196.2,328.1l15.2,-16.6M619.6,418.9l15.2,16.6M619.6,435.5l15.2,-16.6M702.0,408.1l15.2,16.6M702.0,424.7l15.2,-16.6M784.4,396.7l15.2,16.6M784.4,413.3l15.2,-16.6M866.7,384.8l15.2,16.6M866.7,401.4l15.2,-16.6M949.1,373.3l15.2,16.6M949.1,389.9l15.2,-16.6M1031.5,361.7l15.2,16.6M1031.5,378.3l15.2,-16.6M1113.9,350.1l15.2,16.6M1113.9,366.7l15.2,-16.6M1196.2,338.3l15.2,16.6M1196.2,354.9l15.2,-16.6M619.6,469.9l15.2,16.6M619.6,486.5l15.2,-16.6M702.0,457.2l15.2,16.6M702.0,473.8l15.2,-16.6M784.4,443.8l15.2,16.6M784.4,460.4l15.2,-16.6M866.7,431.0l15.2,16.6M866.7,447.6l15.2,-16.6M949.1,417.9l15.2,16.6M949.1,434.5l15.2,-16.6M1031.5,404.8l15.2,16.6M1031.5,421.4l15.2,-16.6M1113.9,391.8l15.2,16.6M1113.9,408.4l15.2,-16.6M1196.2,379.7l15.2,16.6M1196.2,396.3l15.2,-16.6M619.6,472.5l15.2,16.6M619.6,489.1l15.2,-16.6M702.0,460.2l15.2,16.6M702.0,476.8l15.2,-16.6M784.4,446.4l15.2,16.6M784.4,463.0l15.2,-16.6M866.7,433.3l15.2,16.6M866.7,449.9l15.2,-16.6M949.1,420.2l15.2,16.6M949.1,436.8l15.2,-16.6M1031.5,406.4l15.2,16.6M1031.5,423.0l15.2,-16.6M1113.9,393.0l15.2,16.6M1113.9,409.6l15.2,-16.6M1196.2,380.7l15.2,16.6M1196.2,397.3l15.2,-16.6M619.6,480.2l15.2,16.6M619.6,496.8l15.2,-16.6M702.0,468.7l15.2,16.6M702.0,485.3l15.2,-16.6M784.4,456.2l15.2,16.6M784.4,472.8l15.2,-16.6M866.7,444.9l15.2,16.6M866.7,461.5l15.2,-16.6M949.1,431.0l15.2,16.6M949.1,447.6l15.2,-16.6M1031.5,417.9l15.2,16.6M1031.5,434.5l15.2,-16.6M1113.9,404.5l15.2,16.6M1113.9,421.1l15.2,-16.6M1196.2,391.0l15.2,16.6M1196.2,407.6l15.2,-16.6M619.6,529.5l15.2,16.6M619.6,546.1l15.2,-16.6M702.0,515.2l15.2,16.6M702.0,531.8l15.2,-16.6M784.4,500.9l15.2,16.6M784.4,517.5l15.2,-16.6M866.7,486.0l15.2,16.6M866.7,502.6l15.2,-16.6M949.1,471.0l15.2,16.6M949.1,487.6l15.2,-16.6M1031.5,456.4l15.2,16.6M1031.5,473.0l15.2,-16.6M1113.9,442.5l15.2,16.6M1113.9,459.1l15.2,-16.6M1196.2,427.2l15.2,16.6M1196.2,443.8l15.2,-16.6M619.6,558.0l15.2,16.6M619.6,574.6l15.2,-16.6M702.0,542.9l15.2,16.6M702.0,559.5l15.2,-16.6M784.4,528.9l15.2,16.6M784.4,545.5l15.2,-16.6M866.7,513.9l15.2,16.6M866.7,530.5l15.2,-16.6M949.1,499.4l15.2,16.6M949.1,516.0l15.2,-16.6M1031.5,484.9l15.2,16.6M1031.5,501.5l15.2,-16.6M1113.9,470.0l15.2,16.6M1113.9,486.6l15.2,-16.6M1196.2,455.7l15.2,16.6M1196.2,472.3l15.2,-16.6M619.6,608.7l15.2,16.6M619.6,625.3l15.2,-16.6M702.0,594.5l15.2,16.6M702.0,611.1l15.2,-16.6M784.4,581.0l15.2,16.6M784.4,597.6l15.2,-16.6M866.7,565.6l15.2,16.6M866.7,582.2l15.2,-16.6M949.1,551.0l15.2,16.6M949.1,567.6l15.2,-16.6M1031.5,537.2l15.2,16.6M1031.5,553.8l15.2,-16.6M1113.9,522.0l15.2,16.6M1113.9,538.6l15.2,-16.6M1196.2,507.9l15.2,16.6M1196.2,524.5l15.2,-16.6M619.6,625.9l15.2,16.6M619.6,642.5l15.2,-16.6M702.0,611.0l15.2,16.6M702.0,627.6l15.2,-16.6M784.4,595.6l15.2,16.6M784.4,612.2l15.2,-16.6M866.7,580.2l15.2,16.6M866.7,596.8l15.2,-16.6M949.1,565.2l15.2,16.6M949.1,581.8l15.2,-16.6M1031.5,550.3l15.2,16.6M1031.5,566.9l15.2,-16.6M1113.9,534.7l15.2,16.6M1113.9,551.3l15.2,-16.6M1196.2,520.2l15.2,16.6M1196.2,536.8l15.2,-16.6M619.6,663.3l15.2,16.6M619.6,679.9l15.2,-16.6M702.0,649.0l15.2,16.6M702.0,665.6l15.2,-16.6M784.4,633.5l15.2,16.6M784.4,650.1l15.2,-16.6M866.7,618.7l15.2,16.6M866.7,635.3l15.2,-16.6M949.1,603.5l15.2,16.6M949.1,620.1l15.2,-16.6M1031.5,589.1l15.2,16.6M1031.5,605.7l15.2,-16.6M1113.9,574.1l15.2,16.6M1113.9,590.7l15.2,-16.6M1196.2,559.2l15.2,16.6M1196.2,575.8l15.2,-16.6M619.6,1006.8l15.2,16.6M619.6,1023.4l15.2,-16.6M702.0,962.2l15.2,16.6M702.0,978.8l15.2,-16.6M784.4,926.7l15.2,16.6M784.4,943.3l15.2,-16.6M866.7,895.7l15.2,16.6M866.7,912.3l15.2,-16.6M949.1,867.7l15.2,16.6M949.1,884.3l15.2,-16.6M1031.5,841.5l15.2,16.6M1031.5,858.1l15.2,-16.6M1113.9,817.5l15.2,16.6M1113.9,834.1l15.2,-16.6M1196.2,793.4l15.2,16.6M1196.2,810.0l15.2,-16.6M619.6,1011.9l15.2,16.6M619.6,1028.5l15.2,-16.6M702.0,967.2l15.2,16.6M702.0,983.8l15.2,-16.6M784.4,932.2l15.2,16.6M784.4,948.8l15.2,-16.6M866.7,900.2l15.2,16.6M866.7,916.8l15.2,-16.6M949.1,872.2l15.2,16.6M949.1,888.8l15.2,-16.6M1031.5,844.9l15.2,16.6M1031.5,861.5l15.2,-16.6M1113.9,820.4l15.2,16.6M1113.9,837.0l15.2,-16.6M1196.2,796.3l15.2,16.6M1196.2,812.9l15.2,-16.6M619.6,1055.5l15.2,16.6M619.6,1072.1l15.2,-16.6M702.0,990.6l15.2,16.6M702.0,1007.2l15.2,-16.6M784.4,946.2l15.2,16.6M784.4,962.8l15.2,-16.6M866.7,909.9l15.2,16.6M866.7,926.5l15.2,-16.6M949.1,877.4l15.2,16.6M949.1,894.0l15.2,-16.6M1031.5,848.3l15.2,16.6M1031.5,864.9l15.2,-16.6M1113.9,823.0l15.2,16.6M1113.9,839.6l15.2,-16.6M1196.2,798.5l15.2,16.6M1196.2,815.1l15.2,-16.6M619.6,1056.7l15.2,16.6M619.6,1073.3l15.2,-16.6M702.0,991.3l15.2,16.6M702.0,1007.9l15.2,-16.6M784.4,947.0l15.2,16.6M784.4,963.6l15.2,-16.6M866.7,910.6l15.2,16.6M866.7,927.2l15.2,-16.6M949.1,878.2l15.2,16.6M949.1,894.8l15.2,-16.6M1031.5,849.0l15.2,16.6M1031.5,865.6l15.2,-16.6M1113.9,823.7l15.2,16.6M1113.9,840.3l15.2,-16.6M1196.2,799.1l15.2,16.6M1196.2,815.7l15.2,-16.6"/></g>
<g clip-path="url(#cp)" stroke="#808080" stroke-width="9.8" fill="none" stroke-dasharray="38.4 9.9 18.6 9.9">
<path d="M540.03,1140.9V0"/>
<path d="M611.04,1140.9V0"/>
</g>
<g class="sans" font-size="109" fill="#262626">
<text x="265" y="99.4" text-anchor="end">16</text>
<text x="265" y="369.7" text-anchor="end">12</text>
<text x="265" y="639.9" text-anchor="end">8</text>
<text x="265" y="910.2" text-anchor="end">4</text>
<text x="265" y="1180.4" text-anchor="end">0</text>
<text x="297.7" y="1277" text-anchor="middle">0</text>
<text x="627.2" y="1277" text-anchor="middle">20</text>
<text x="956.7" y="1277" text-anchor="middle">40</text>
</g>
<g class="serif" font-size="121.5" fill="#262626">
<text x="785.5" y="1415" text-anchor="middle">Applied field (mT)</text>
<text transform="translate(102.5,616) rotate(-90)" text-anchor="middle">SW frequency (GHz)</text>
</g>
<text class="serif" font-size="121.5" fill="#000" x="1071" y="1094" text-anchor="middle">Py-Py</text>
<text class="serif" fill="#1b6699" x="382.5" y="826.4" font-size="94"><tspan font-style="italic">B</tspan><tspan font-size="75" dy="48">T1</tspan></text>
<text class="serif" fill="#ff0000" x="627" y="812.8" font-size="94"><tspan font-style="italic">B</tspan><tspan font-size="76" dy="48" dx="2">T2</tspan></text>
</svg></body></html>
